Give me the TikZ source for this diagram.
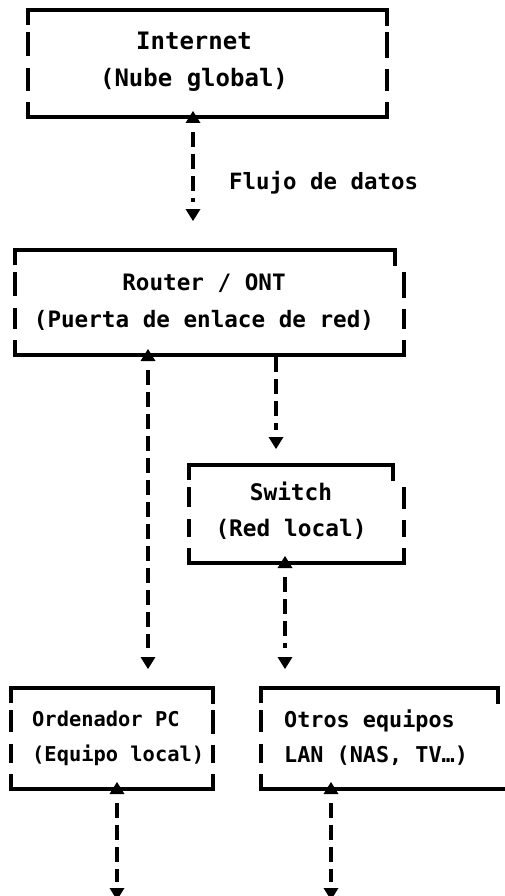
\documentclass[tikz,border=0pt]{standalone}
\usepackage{fontspec}
\setmonofont{DejaVu Sans Mono}
\begin{document}
\begin{tikzpicture}[x=1pt,y=-1pt,
  bline/.style={line width=3.8pt, line cap=butt, line join=miter},
  dline/.style={line width=3.8pt, dash pattern=on 15pt off 7pt},
  lbl/.style={font=\ttfamily\bfseries\fontsize{22.4}{36}\selectfont, inner sep=0pt},
  tipfill/.style={fill=black}]
\useasboundingbox (0,0) rectangle (505,896);
\fill[white] (0,0) rectangle (505,896);
% frame macro: #1 left, #2 top, #3 top-right x, #4 right x, #5 bottom
\newcommand\dframe[5]{%
  \draw[bline] (#1,#2+15) -- (#1,#2) -- (#3,#2) -- (#3,#2+16);
  \draw[bline] (#1,#5-15) -- (#1,#5) -- (#4,#5) -- (#4,#5-15);
  \draw[bline] (#1,#2+22) -- (#1,{(#2+#5)/2-7});
  \draw[bline] (#1,{(#2+#5)/2+5}) -- (#1,#5-26);
  \draw[bline] (#4,#2+22) -- (#4,{(#2+#5)/2-5});
  \draw[bline] (#4,{(#2+#5)/2+6}) -- (#4,#5-26);
}
\newcommand\uptip[1]{\fill (#1) -- ++(-7.5,12) -- ++(15,0) -- cycle;}
\newcommand\downtip[1]{\fill (#1) -- ++(-7.5,-12) -- ++(15,0) -- cycle;}

% Boxes
\dframe{28}{10}{387}{387}{117}
\node[lbl, font=\ttfamily\bfseries\fontsize{24}{37}\selectfont, align=center] (inet) at (194,62) {Internet\\(Nube global)};

\dframe{15}{250}{395}{404}{355}
\node[lbl, font=\ttfamily\bfseries\fontsize{22.6}{37}\selectfont, align=center] (rout) at (204,302) {Router / ONT\\(Puerta de enlace de red)};

\dframe{189}{465}{393}{404}{563}
\node[lbl, font=\ttfamily\bfseries\fontsize{22.8}{36}\selectfont, align=center] (swit) at (291,511) {Switch\\(Red local)};

\dframe{11}{688}{213}{213}{789}
\node[lbl, font=\ttfamily\bfseries\fontsize{20.4}{35}\selectfont, align=left, anchor=west] (pc) at (32,738) {Ordenador PC\\(Equipo local)};

\dframe{261}{688}{498}{507}{789}
\node[lbl, font=\ttfamily\bfseries\fontsize{21.8}{35}\selectfont, align=left, anchor=west] (otros) at (284,738) {Otros equipos\\LAN (NAS, TV…)};

\node[lbl, anchor=west] (flujo) at (229,183) {Flujo de datos};

% Connector end points
\coordinate (i1) at (193,111);
\coordinate (r1) at (193,221);
\coordinate (r2) at (148,349);
\coordinate (p1) at (148,669);
\coordinate (r3) at (276,357);
\coordinate (s1) at (276,449);
\coordinate (s2) at (285,556);
\coordinate (o1) at (285,669);
\coordinate (p2) at (117,782);
\coordinate (p3) at (117,900);
\coordinate (o2) at (331,782);
\coordinate (o3) at (331,900);

% Connectors
\draw[dline, shorten <=21pt, shorten >=19pt] (i1) -- (r1);
\uptip{i1} \downtip{r1}
\draw[dline, shorten <=21pt, shorten >=21pt] (r2) -- (p1);
\uptip{r2} \downtip{p1}
\draw[dline, shorten >=19pt] (r3) -- (s1);
\downtip{s1}
\draw[dline, shorten <=21pt, shorten >=21pt] (s2) -- (o1);
\uptip{s2} \downtip{o1}
\draw[dline, shorten <=21pt, shorten >=18pt] (p2) -- (p3);
\uptip{p2} \downtip{p3}
\draw[dline, shorten <=21pt, shorten >=18pt] (o2) -- (o3);
\uptip{o2} \downtip{o3}
\end{tikzpicture}
\end{document}
